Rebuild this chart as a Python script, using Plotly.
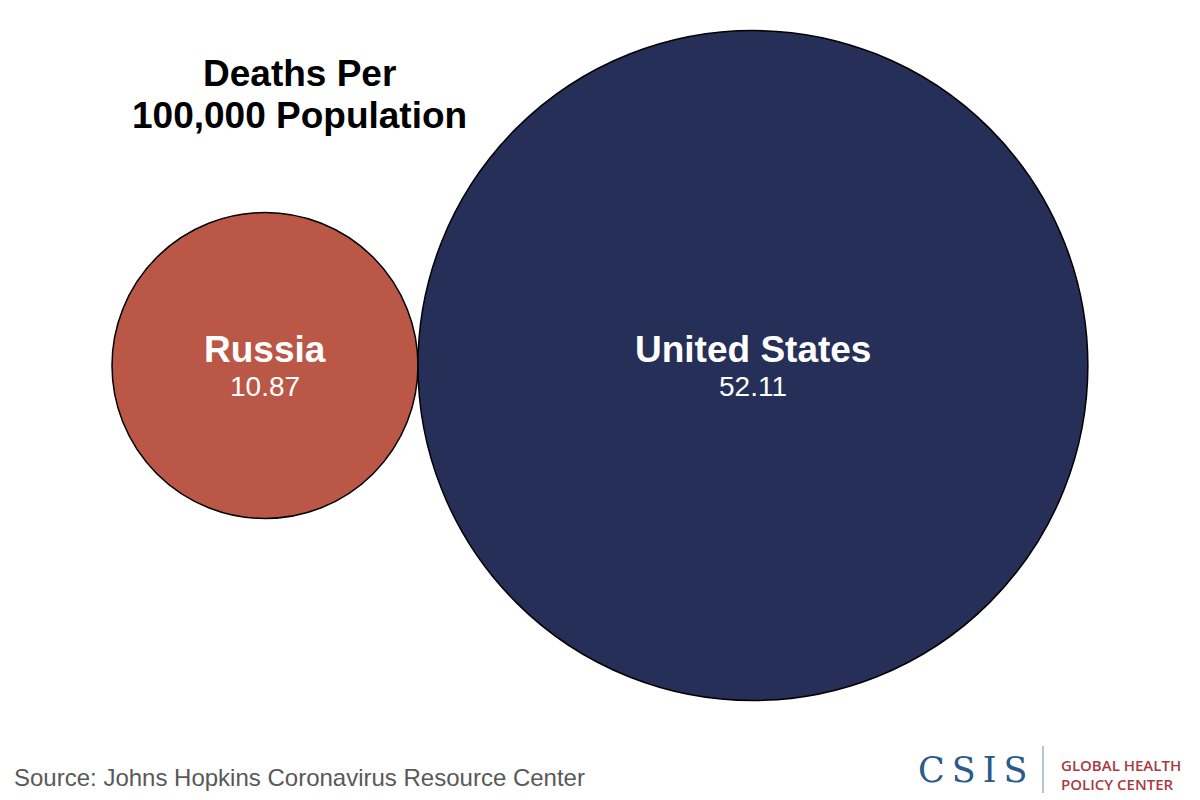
import plotly.graph_objects as go
import numpy as np

countries = ["Russia", "United States"]
deaths_per_100k = [10.87, 52.11]
value_labels = ["10.87", "52.11"]
fill_colors = ["#bb5747", "#262f57"]

title_lines = ["Deaths Per", "100,000 Population"]
source_text = "Source: Johns Hopkins Coronavirus Resource Center"
logo_main = "C\u2009S\u2009I\u2009S"
logo_sub = ["GLOBAL HEALTH", "POLICY CENTER"]

# circle area follows the value: radius = k * sqrt(value)
px_per_root = 46.4
left_edge = 112
center_y = 365.5

radii = [px_per_root * np.sqrt(v) for v in deaths_per_100k]
centers = []
x = left_edge
for r in radii:
    centers.append(x + r)
    x += 2 * r

fig = go.Figure()
# invisible trace so the axes exist
fig.add_trace(go.Scatter(x=centers, y=[center_y] * len(centers), mode="markers",
                         marker=dict(opacity=0), hoverinfo="skip", showlegend=False))

for name, val, cx, r, col in zip(countries, value_labels, centers, radii, fill_colors):
    fig.add_shape(type="circle", xref="x", yref="y",
                  x0=cx - r, x1=cx + r, y0=center_y - r, y1=center_y + r,
                  fillcolor=col, line=dict(color="black", width=1.5), layer="below")
    fig.add_annotation(x=cx, y=center_y, text="<b>" + name + "</b>", showarrow=False,
                       yshift=16, font=dict(family="Liberation Sans, Arial", size=37, color="white"))
    fig.add_annotation(x=cx, y=center_y, text=val, showarrow=False,
                       yshift=-21, font=dict(family="Liberation Sans, Arial", size=28, color="white"))

for i, line in enumerate(title_lines):
    fig.add_annotation(x=299, y=73 + 42 * i, text="<b>" + line + "</b>", showarrow=False,
                       font=dict(family="Liberation Sans, Arial", size=37, color="black"))

fig.add_annotation(x=12, y=777, text=source_text, showarrow=False, xanchor="left",
                   font=dict(family="Liberation Sans, Arial", size=24, color="#595959"))

# logo
fig.add_annotation(x=973, y=770, text=logo_main, showarrow=False,
                   font=dict(family="DejaVu Serif", size=35, color="#2c5a8a"))
fig.add_shape(type="line", xref="x", yref="y", x0=1043, x1=1043, y0=746, y1=793,
              line=dict(color="#9fb3c8", width=1.5))
for i, line in enumerate(logo_sub):
    fig.add_annotation(x=1059, y=765 + 19 * i, text=line, showarrow=False, xanchor="left",
                       font=dict(family="Open Sans", size=15, color="#a83a3f", weight=600))

# the page body adds an 8px offset, so the ranges start at 8
fig.update_xaxes(range=[8, 1208], visible=False)
fig.update_yaxes(range=[808, 8], visible=False)
fig.update_layout(width=1200, height=800, margin=dict(l=0, r=0, t=0, b=0),
                  plot_bgcolor="white", paper_bgcolor="white", showlegend=False)

fig.write_html("out.html", config={"displayModeBar": False})
